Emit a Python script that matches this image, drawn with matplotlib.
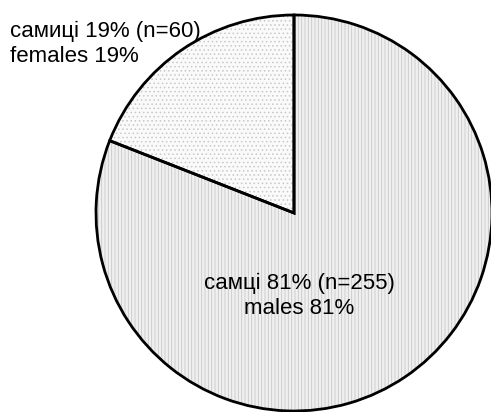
import numpy as np
import matplotlib.pyplot as plt

plt.rcParams['font.family'] = ['Liberation Sans', 'DejaVu Sans']
plt.rcParams['hatch.linewidth'] = 0.6

groups = ['females', 'males']
counts = [60, 255]
labels_ua = ['самиці', 'самці']
shares = [19, 81]

fig = plt.figure(figsize=(4.91, 4.12), dpi=100)
ax = fig.add_axes([0, 0, 1, 1])

# textured fills: hatch takes the edge colour, so draw them without outline
fills, _ = ax.pie(counts, startangle=90, counterclock=True,
                  center=(294, 199), radius=198,
                  colors=['#fafafa', '#f0f0f0'],
                  wedgeprops=dict(edgecolor='#c8c8c8', linewidth=0))
fills[0].set_hatch('....')
fills[1].set_hatch('|||||')

# black outlines on top
ax.pie(counts, startangle=90, counterclock=True,
       center=(294, 199), radius=198,
       wedgeprops=dict(facecolor='none', edgecolor='black', linewidth=2))

# pie() resets the limits, so fix the pixel frame afterwards
ax.set_xlim(0, 491)
ax.set_ylim(0, 412)
ax.set_aspect('equal')
ax.axis('off')

ax.text(10, 368, f'{labels_ua[0]} {shares[0]}% (n={counts[0]})\n{groups[0]} {shares[0]}%',
        fontsize=16, ha='left', va='center', linespacing=1.2)
ax.text(299, 116, f'{labels_ua[1]} {shares[1]}% (n={counts[1]})\n{groups[1]} {shares[1]}%',
        fontsize=16, ha='center', va='center', linespacing=1.2)

fig.savefig('out.png', dpi=100)
